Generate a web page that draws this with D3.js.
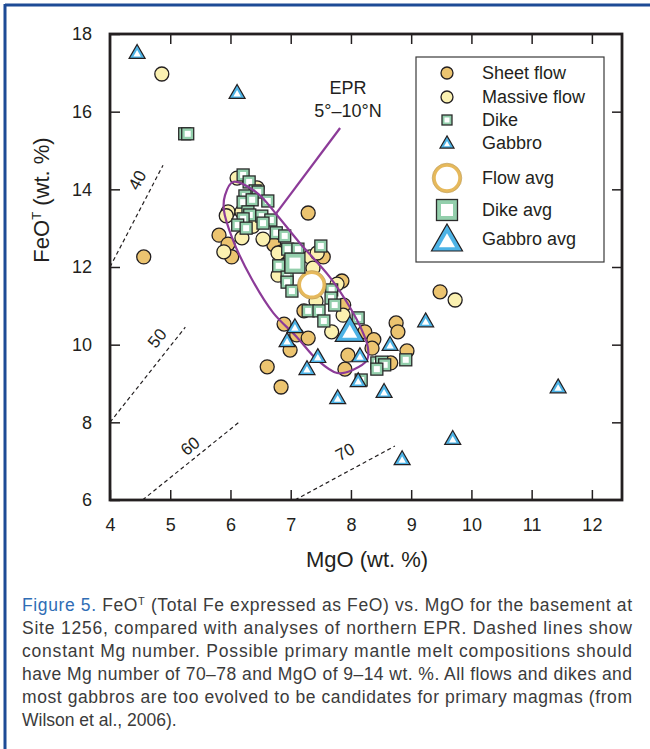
<!DOCTYPE html>
<html lang="en">
<head>
<meta charset="UTF-8">
<title>FeOT vs MgO</title>
<script src="https://cdn.jsdelivr.net/npm/d3@7"></script>
<style>
  body { margin: 0; background: #fff; }
  svg { display: block; }
</style>
</head>
<body>
<script>

// values, [MgO, FeOT] in wt. %
var sheetFlow = [[4.56,12.26],[7.29,13.39],[5.81,12.82],[5.96,12.59],[6.02,12.26],[6.72,12.57],
    [6.85,12.39],[7.54,12.26],[7.85,11.64],[7.88,11.02],[7.22,10.87],[6.89,10.53],[8.23,10.33],
    [7.10,10.25],[7.29,10.17],[6.99,9.86],[6.61,9.43],[6.84,8.91],[7.90,9.37],[7.95,9.73],
    [8.38,10.13],[8.35,9.91],[8.66,9.53],[8.75,10.56],[8.78,10.33],[8.93,9.84],[9.48,11.36]];

var massiveFlow = [[4.86,16.97],[6.11,14.29],[6.44,14.04],[5.96,13.42],[5.93,13.32],[6.19,12.75],
    [5.89,12.39],[6.54,12.72],[6.34,13.16],[6.19,13.42],[6.37,13.05],[6.79,12.36],[7.32,12.26],
    [7.44,12.36],[7.37,11.97],[6.79,11.79],[7.77,11.56],[7.42,11.12],[7.87,10.76],[7.68,10.33],
    [9.73,11.15]];

var dike = [[5.24,15.43],[5.29,15.43],[6.21,14.37],[6.31,14.19],[6.41,13.96],[6.46,13.93],[6.24,13.83],
    [6.21,13.67],[6.36,13.73],[6.62,13.70],[6.29,13.42],[6.32,13.34],[6.21,13.24],[6.52,13.31],
    [6.67,13.21],[6.54,13.13],[6.12,13.08],[6.26,13.00],[6.76,12.88],[6.90,12.80],[6.95,12.46],
    [7.12,12.46],[7.50,12.54],[6.80,12.03],[6.94,11.74],[6.94,11.61],[7.02,11.38],[7.68,11.41],
    [7.67,11.20],[7.73,11.02],[7.29,10.87],[7.47,10.87],[7.55,10.61],[8.12,10.69],[8.17,9.09],
    [8.43,9.53],[8.51,9.55],[8.56,9.48],[8.43,9.37],[8.91,9.61]];

var gabbro = [[4.45,17.49],[6.11,16.46],[7.07,10.43],[6.94,10.07],[7.45,9.66],[7.27,9.35],[8.15,9.68],
    [8.12,9.04],[8.65,9.97],[9.24,10.58],[8.55,8.76],[7.78,8.60],[11.44,8.88],[9.69,7.55],[8.85,7.03]];

var flowAvg = [7.35, 11.54];
var dikeAvg = [7.07, 12.10];
var gabbroAvg = [7.98, 10.30];

// EPR 5-10N field outline
var eprMgO = [6.04,6.44,6.77,7.15,7.65,7.98,8.18,8.28,8.27,8.03,7.77,7.44,7.10,6.71,6.36,6.04,5.89,5.91];
var eprFeO = [14.19,13.91,13.34,12.62,11.74,10.97,10.38,9.94,9.61,9.35,9.27,9.61,10.20,10.82,11.67,12.70,13.47,13.85];
var eprPointer = [[7.82,15.58],[6.74,13.34]];

// constant Mg number lines
var mgNumbers = [40, 50, 60, 70];
var mgStart = [[4.0,12.0],[4.0,8.0],[4.54,6.0],[7.07,6.0]];
var mgEnd = [[4.88,14.62],[5.25,10.45],[6.14,8.0],[8.73,7.39]];
var mgLabelAt = [[4.45,14.24],[4.78,10.17],[5.33,7.39],[7.90,7.24]];

var xTicks = [4,5,6,7,8,9,10,11,12];
var yTicks = [6,8,10,12,14,16,18];

var legendLabels = ["Sheet flow","Massive flow","Dike","Gabbro","Flow avg","Dike avg","Gabbro avg"];

var captionLines = [
    "Site 1256, compared with analyses of northern EPR. Dashed lines show",
    "constant Mg number. Possible primary mantle melt compositions should",
    "have Mg number of 70\u201378 and MgO of 9\u201314 wt. %. All flows and dikes and",
    "most gabbros are too evolved to be candidates for primary magmas (from",
    "Wilson et al., 2006)."
];

//colours
var sheetCol = "#ecc470", massiveCol = "#fbf1b1", dikeCol = "#93cfac", gabCol = "#4db3e6";
var ink = "#231f20", purple = "#8c3b98";

var width = 650, height = 749;
var svg = d3.select("body").append("svg")
    .attr("width", width).attr("height", height)
    .style("font-family", "'Liberation Sans', Arial, sans-serif");

// blue frame
svg.append("line").attr("x1",5).attr("x2",650).attr("y1",5).attr("y2",5)
    .attr("stroke","#1d4b96").attr("stroke-width",3);
svg.append("line").attr("x1",5).attr("x2",5).attr("y1",4).attr("y2",749)
    .attr("stroke","#1d4b96").attr("stroke-width",3);

var x = d3.scaleLinear().domain([4,12.5]).range([110,622]);
var y = d3.scaleLinear().domain([6,18]).range([500,34]);

var plot = svg.append("g");

// Mg number lines
mgNumbers.forEach(function (m, i) {
    plot.append("line")
        .attr("x1", x(mgStart[i][0])).attr("y1", y(mgStart[i][1]))
        .attr("x2", x(mgEnd[i][0])).attr("y2", y(mgEnd[i][1]))
        .attr("stroke", ink).attr("stroke-width", 1.2)
        .attr("stroke-dasharray", "4,3");
    var ang = Math.atan2(y(mgEnd[i][1]) - y(mgStart[i][1]), x(mgEnd[i][0]) - x(mgStart[i][0])) * 180 / Math.PI;
    plot.append("text")
        .attr("transform", "translate(" + x(mgLabelAt[i][0]) + "," + y(mgLabelAt[i][1]) + ") rotate(" + ang + ")")
        .attr("text-anchor", "middle").attr("dy", "0.35em")
        .attr("font-size", "17px").attr("fill", ink)
        .text(m);
});

// marker helpers
function triPath(w) {
    var h = w * 0.87;
    return "M0," + (-h * 2 / 3) + "L" + (w / 2) + "," + (h / 3) + "L" + (-w / 2) + "," + (h / 3) + "Z";
}
function drawCircle(g, cx, cy, r, fill) {
    g.append("circle").attr("cx", cx).attr("cy", cy).attr("r", r)
        .attr("fill", fill).attr("stroke", ink).attr("stroke-width", 1.3);
}
function drawSquare(g, cx, cy, s, inner) {
    g.append("rect").attr("x", cx - s / 2).attr("y", cy - s / 2).attr("width", s).attr("height", s)
        .attr("fill", dikeCol).attr("stroke", "#2b2b2b").attr("stroke-width", 1.3);
    g.append("rect").attr("x", cx - inner / 2).attr("y", cy - inner / 2).attr("width", inner).attr("height", inner)
        .attr("fill", "#fff");
}
function drawTri(g, cx, cy, w, inner) {
    g.append("path").attr("d", triPath(w)).attr("transform", "translate(" + cx + "," + cy + ")")
        .attr("fill", gabCol).attr("stroke", ink).attr("stroke-width", 1.2).attr("stroke-linejoin", "miter");
    g.append("path").attr("d", triPath(inner)).attr("transform", "translate(" + cx + "," + (cy + 0.5) + ")")
        .attr("fill", "#fff");
}
function drawFlowAvg(g, cx, cy, r) {
    g.append("circle").attr("cx", cx).attr("cy", cy).attr("r", r)
        .attr("fill", "#fff").attr("stroke", "#e6b95c").attr("stroke-width", 3.5);
    g.append("circle").attr("cx", cx).attr("cy", cy).attr("r", r + 1.8)
        .attr("fill", "none").attr("stroke", "#b99a5a").attr("stroke-width", 0.6);
}

// flows
var flows = plot.append("g");
sheetFlow.forEach(function (d) { drawCircle(flows, x(d[0]), y(d[1]), 7, sheetCol); });
massiveFlow.forEach(function (d) { drawCircle(flows, x(d[0]), y(d[1]), 7, massiveCol); });

// dikes
var dikes = plot.append("g");
dike.forEach(function (d) { drawSquare(dikes, x(d[0]), y(d[1]), 12, 6); });

// EPR field
var eprPts = eprMgO.map(function (m, i) { return [x(m), y(eprFeO[i])]; });
plot.append("path")
    .attr("d", d3.line().curve(d3.curveCatmullRomClosed)(eprPts))
    .attr("fill", "none").attr("stroke", purple).attr("stroke-width", 2.2);
plot.append("path")
    .attr("d", d3.line().x(function (d) { return x(d[0]); }).y(function (d) { return y(d[1]); })(eprPointer))
    .attr("stroke", purple).attr("stroke-width", 2.2);

// gabbros
var gabs = plot.append("g");
gabbro.forEach(function (d) { drawTri(gabs, x(d[0]), y(d[1]), 16, 7.5); });

// averages
drawFlowAvg(plot, x(flowAvg[0]), y(flowAvg[1]), 12.5);
drawSquare(plot, x(dikeAvg[0]), y(dikeAvg[1]), 20, 11);
drawTri(plot, x(gabbroAvg[0]), y(gabbroAvg[1]), 29, 15);

// EPR label
svg.append("text").attr("x", 348).attr("y", 94).attr("text-anchor", "middle")
    .attr("font-size", "18px").attr("fill", ink).text("EPR");
svg.append("text").attr("x", 348).attr("y", 117).attr("text-anchor", "middle")
    .attr("font-size", "18px").attr("fill", ink).text("5\u00b0\u201310\u00b0N");

// axes, ticks pointing inward
function styleAxis(g) {
    g.select(".domain").remove();
    g.selectAll(".tick line").attr("stroke", ink).attr("stroke-width", 1.5);
    g.selectAll(".tick text").attr("fill", ink).attr("font-size", "18px")
        .style("font-family", "'Liberation Sans', Arial, sans-serif");
}
svg.append("g").attr("transform", "translate(0,500)")
    .call(d3.axisBottom(x).tickValues(xTicks).tickSizeInner(-10).tickSizeOuter(0).tickPadding(18))
    .call(styleAxis);
svg.append("g").attr("transform", "translate(0,34)")
    .call(d3.axisTop(x).tickValues(xTicks.slice(1)).tickSizeInner(-10).tickSizeOuter(0).tickFormat(""))
    .call(styleAxis);
svg.append("g").attr("transform", "translate(110,0)")
    .call(d3.axisLeft(y).tickValues(yTicks).tickSizeInner(-10).tickSizeOuter(0).tickPadding(18))
    .call(styleAxis);
svg.append("g").attr("transform", "translate(622,0)")
    .call(d3.axisRight(y).tickValues(yTicks.slice(1, -1)).tickSizeInner(-10).tickSizeOuter(0).tickFormat(""))
    .call(styleAxis);

svg.append("rect").attr("x", 110).attr("y", 34).attr("width", 512).attr("height", 466)
    .attr("fill", "none").attr("stroke", ink).attr("stroke-width", 2.8);

// axis titles
svg.append("text").attr("x", 367).attr("y", 567).attr("text-anchor", "middle")
    .attr("font-size", "22px").attr("fill", ink).text("MgO (wt. %)");
var yt = svg.append("text").attr("transform", "translate(49,200) rotate(-90)")
    .attr("text-anchor", "middle").attr("font-size", "22px").attr("fill", ink);
yt.append("tspan").text("FeO");
yt.append("tspan").attr("font-size", "13px").attr("dy", "-8").text("T");
yt.append("tspan").attr("dy", "8").text(" (wt. %)");

// legend
var lg = svg.append("g");
lg.append("rect").attr("x", 416).attr("y", 57).attr("width", 188).attr("height", 205)
    .attr("fill", "#fff").attr("stroke", "#3a3a3a").attr("stroke-width", 1.2);
var rowY = [73, 97, 120, 143, 178, 210, 239];
var symX = 447;
drawCircle(lg, symX, rowY[0], 6, sheetCol);
drawCircle(lg, symX, rowY[1], 6, massiveCol);
drawSquare(lg, symX, rowY[2], 10, 5);
drawTri(lg, symX, rowY[3] + 1, 14, 6);
drawFlowAvg(lg, symX, rowY[4], 13);
drawSquare(lg, symX, rowY[5], 21, 12);
drawTri(lg, symX, rowY[6] + 3, 31, 16);
legendLabels.forEach(function (t, i) {
    lg.append("text").attr("x", 482).attr("y", rowY[i]).attr("dy", "0.35em")
        .attr("font-size", "18px").attr("fill", ink).text(t);
});

// caption
var capFont = "17.5px", capCol = "#3b3b3b", capLeft = 22, capRight = 632;
var c0 = svg.append("text").attr("x", capLeft).attr("y", 611).attr("font-size", capFont).attr("fill", capCol)
    .attr("textLength", capRight - capLeft).attr("lengthAdjust", "spacing");
c0.append("tspan").attr("fill", "#2f6db5").text("Figure 5.");
c0.append("tspan").text(" FeO");
c0.append("tspan").attr("font-size", "11px").attr("dy", "-6").text("T");
c0.append("tspan").attr("dy", "6").text(" (Total Fe expressed as FeO) vs. MgO for the basement at");

captionLines.forEach(function (t, i) {
    var tx = svg.append("text").attr("x", capLeft).attr("y", 634 + i * 23)
        .attr("font-size", capFont).attr("fill", capCol).text(t);
    if (i < captionLines.length - 1) {
        tx.attr("textLength", capRight - capLeft).attr("lengthAdjust", "spacing");
    }
});

</script>
</body>
</html>
